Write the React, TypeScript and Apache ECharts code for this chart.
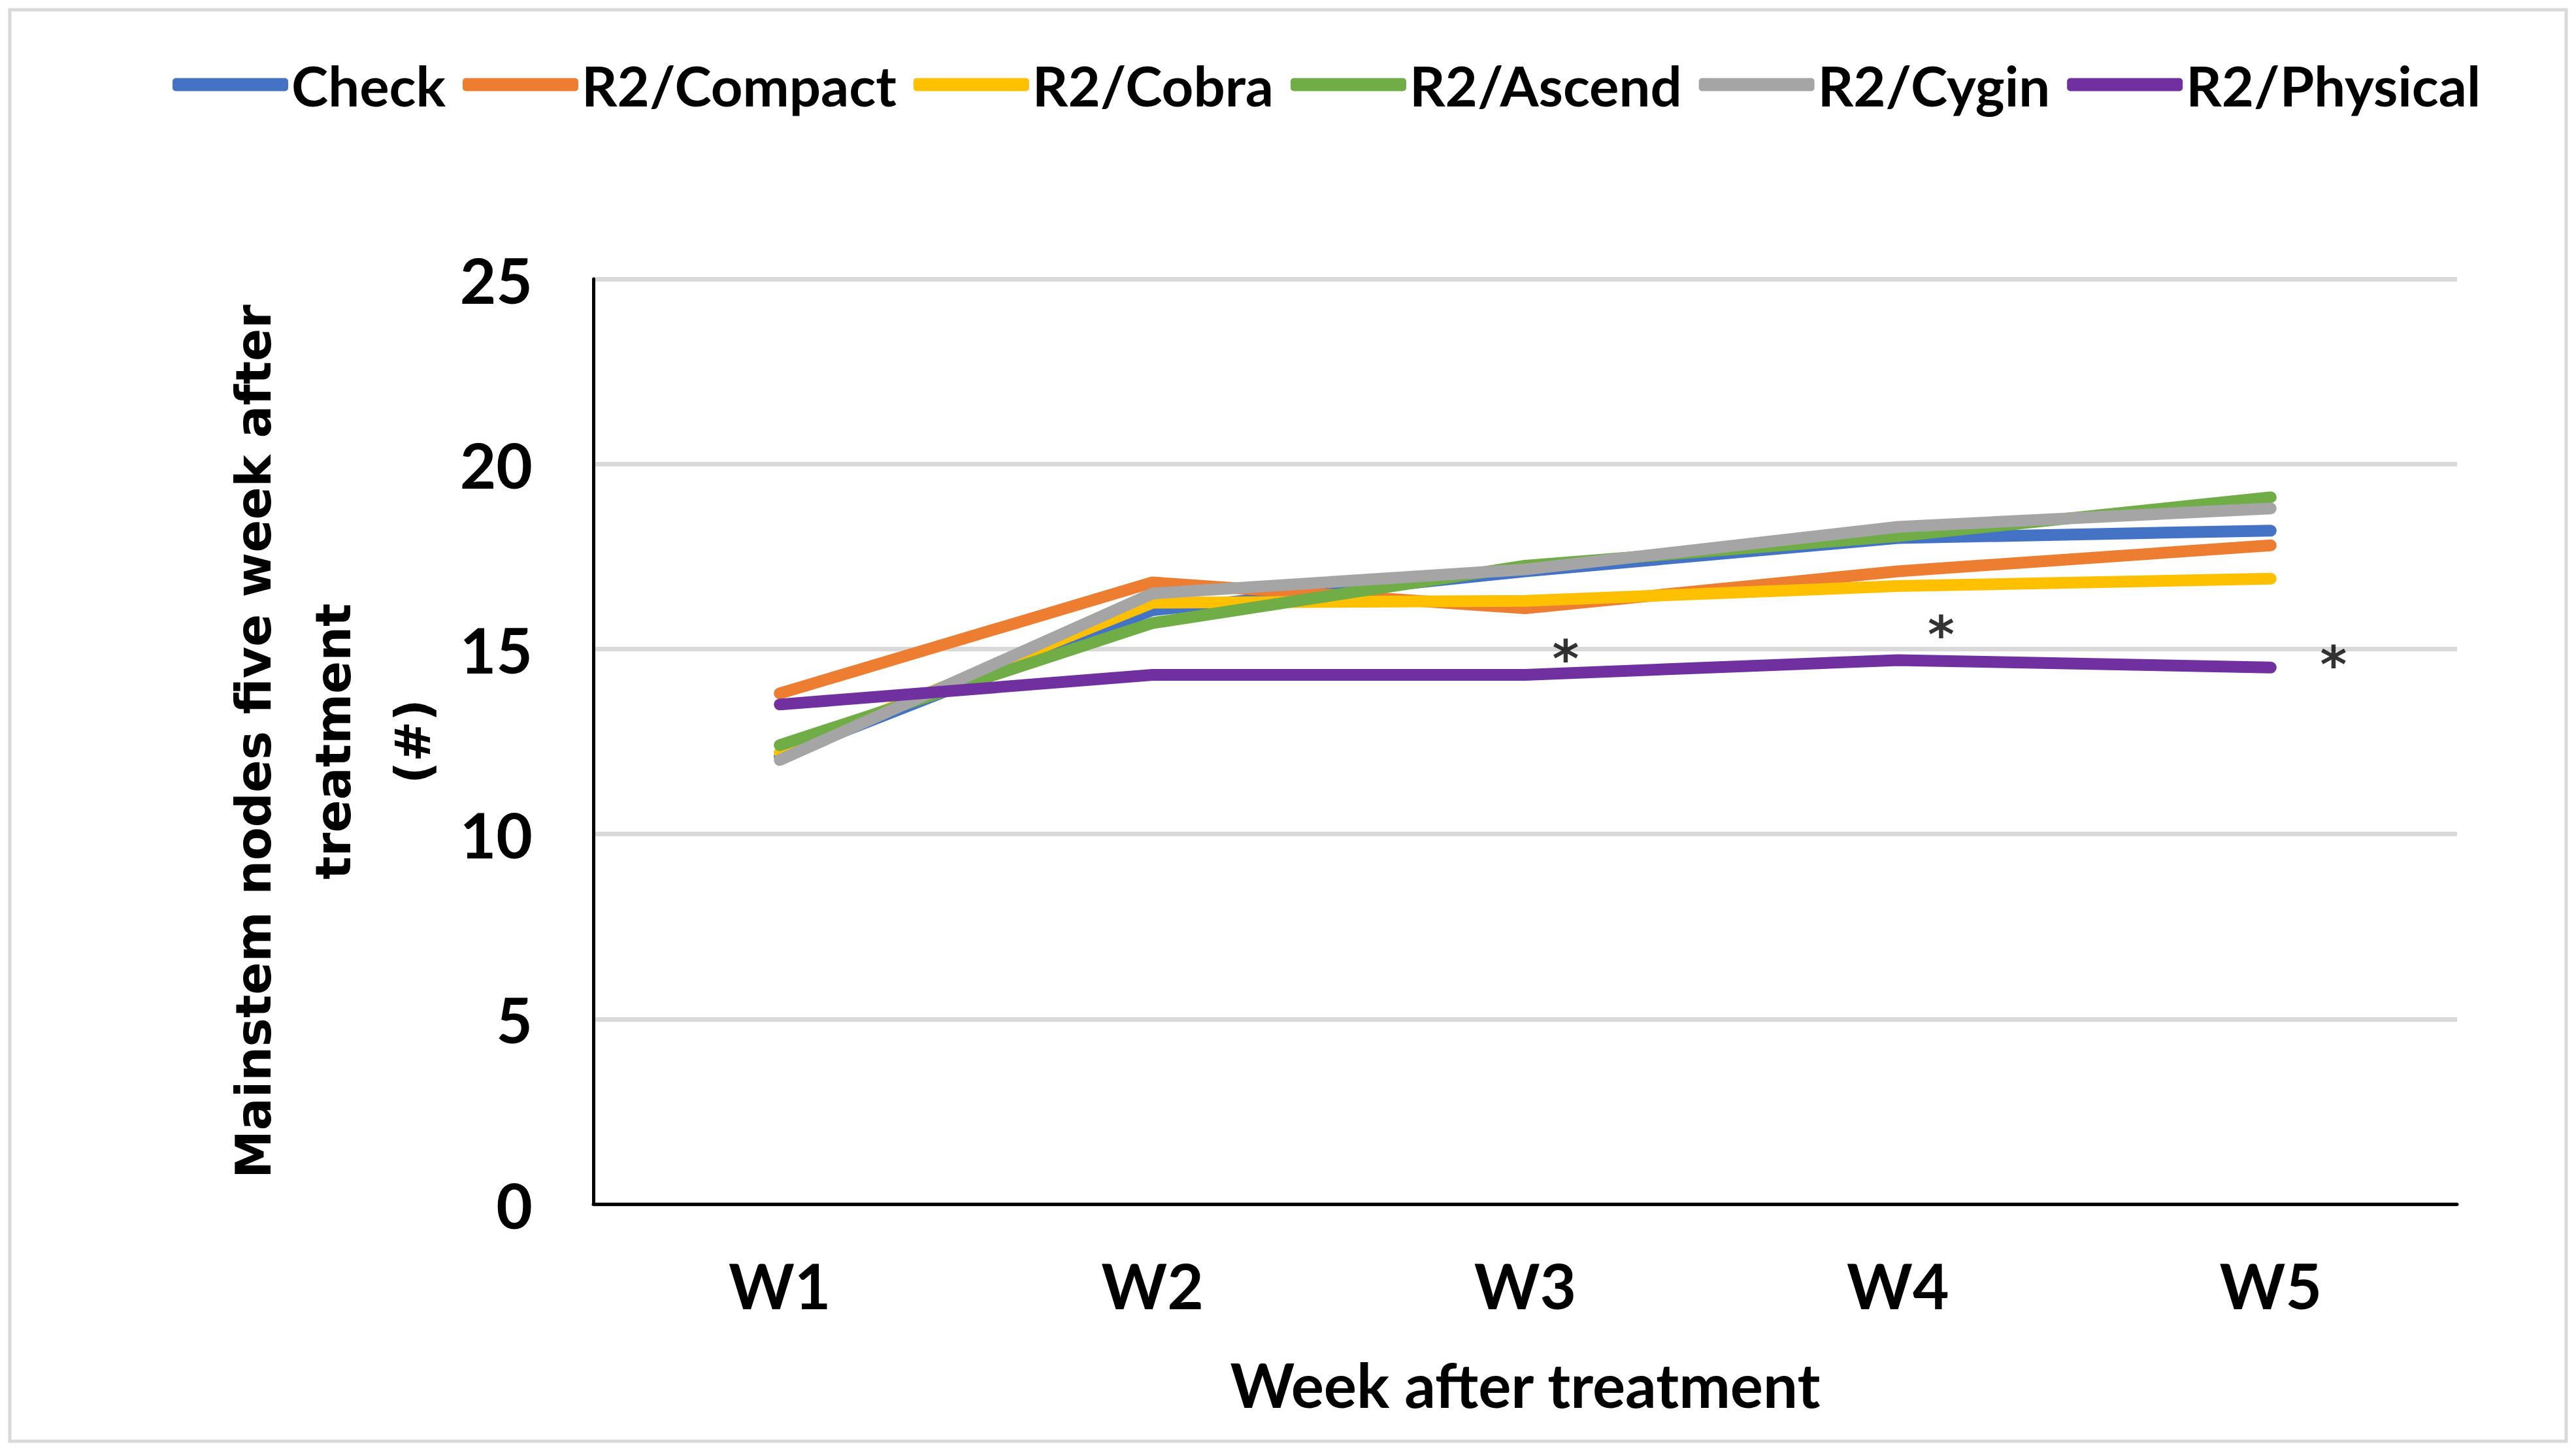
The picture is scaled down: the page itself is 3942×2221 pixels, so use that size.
import React, { useEffect, useRef } from "react";
import * as echarts from "echarts";

const weeks = ["W1", "W2", "W3", "W4", "W5"];
const seriesNames = ["Check", "R2/Compact", "R2/Cobra", "R2/Ascend", "R2/Cygin", "R2/Physical"];
const check = [12.1, 16.05, 17.1, 18.0, 18.2];
const compact = [13.8, 16.8, 16.1, 17.1, 17.8];
const cobra = [12.2, 16.25, 16.3, 16.7, 16.9];
const ascend = [12.4, 15.7, 17.25, 18.05, 19.1];
const cygin = [12.0, 16.5, 17.15, 18.3, 18.8];
const physical = [13.5, 14.3, 14.3, 14.7, 14.5];
const sigMarks = ["", "", "*", "*", "*"];
const yTicks = [0, 5, 10, 15, 20, 25];

const colors = ["#4472C4", "#ED7D31", "#FFC000", "#70AD47", "#A5A5A5", "#7030A0"];
const allValues = [check, compact, cobra, ascend, cygin, physical];
const sigOffsets = [[62, -24], [0, 0], [62, -24], [66, -38], [96, -4]];

export default function App() {
  const ref = useRef<HTMLDivElement>(null);
  useEffect(() => {
    if (!ref.current) return;
    const chart = echarts.init(ref.current, null, { renderer: "svg" });
    const font = "Lato";
    const lineSeries = seriesNames.map((name, i) => ({
      name,
      type: "line",
      data: allValues[i],
      symbol: "none",
      showSymbol: false,
      lineStyle: { color: colors[i], width: 18, cap: "round", join: "round" },
      itemStyle: { color: colors[i] },
      z: 2,
    }));
    const sigSeries = {
      name: "sig",
      type: "scatter",
      symbolSize: 0,
      silent: true,
      z: 5,
      data: physical.map((v, i) =>
        sigMarks[i]
          ? {
              value: v,
              label: {
                show: true,
                formatter: sigMarks[i],
                position: "inside",
                offset: sigOffsets[i],
                color: "#000",
                fontFamily: "DejaVu Sans",
                fontWeight: "bold",
                fontSize: 78,
              },
            }
          : "-"
      ),
    };
    chart.setOption({
      animation: false,
      backgroundColor: "#ffffff",
      color: colors,
      graphic: [
        {
          type: "rect",
          shape: { x: 15, y: 15, width: 3912, height: 2191 },
          style: { fill: "none", stroke: "#d9d9d9", lineWidth: 5 },
          silent: true,
        },
      ],
      legend: {
        data: seriesNames.map((n) => ({ name: n, icon: "roundRect" })),
        left: 259,
        top: 82,
        itemWidth: 177,
        itemHeight: 20,
        itemGap: 26,
        textStyle: { fontFamily: font, fontWeight: "bold", fontSize: 85, color: "#000" },
      },
      grid: { left: 908, right: 182, top: 427, bottom: 378, containLabel: false },
      xAxis: {
        type: "category",
        data: weeks,
        boundaryGap: true,
        axisLine: { show: true, lineStyle: { color: "#000", width: 5 } },
        axisTick: { show: false },
        axisLabel: { margin: 75, fontFamily: font, fontWeight: "bold", fontSize: 96, color: "#000" },
        name: "Week after treatment",
        nameLocation: "middle",
        nameGap: 228,
        nameTextStyle: { fontFamily: font, fontWeight: "bold", fontSize: 94, color: "#000" },
      },
      yAxis: {
        type: "value",
        min: yTicks[0],
        max: yTicks[yTicks.length - 1],
        interval: 5,
        axisLine: { show: true, lineStyle: { color: "#000", width: 5 } },
        axisTick: { show: false },
        axisLabel: { margin: 93, fontFamily: font, fontWeight: "bold", fontSize: 96, color: "#000" },
        splitLine: { show: true, lineStyle: { color: "#d9d9d9", width: 7 } },
        name: "Mainstem nodes five week after\ntreatment\n(#)",
        nameLocation: "middle",
        nameRotate: 90,
        nameGap: 210,
        nameTextStyle: {
          fontFamily: "DejaVu Sans",
          fontWeight: "bold",
          fontSize: 74,
          lineHeight: 122,
          color: "#000",
          align: "center",
        },
      },
      series: [...lineSeries, sigSeries],
    });
    return () => chart.dispose();
  }, []);
  return (
    <div
      ref={ref}
      style={{ position: "fixed", left: 0, top: 0, width: "3942px", height: "2221px", background: "#fff" }}
    />
  );
}
